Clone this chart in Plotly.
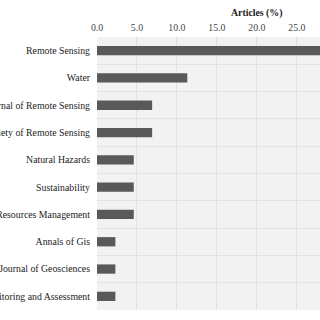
import plotly.graph_objects as go

journals = [
    "Remote Sensing",
    "Water",
    "International Journal of Remote Sensing",
    "Journal of the Indian Society of Remote Sensing",
    "Natural Hazards",
    "Sustainability",
    "Water Resources Management",
    "Annals of Gis",
    "Arabian Journal of Geosciences",
    "Environmental Monitoring and Assessment",
]
articles_pct = [28.7, 11.3, 6.9, 6.9, 4.6, 4.6, 4.6, 2.3, 2.3, 2.3]
x_ticks = [0, 5, 10, 15, 20, 25]

font_family = "Liberation Serif"

fig = go.Figure(
    go.Bar(
        x=articles_pct,
        y=journals,
        orientation="h",
        width=0.34,
        marker=dict(color="#595959", line=dict(width=0)),
    )
)

fig.update_layout(
    width=320,
    height=320,
    margin=dict(l=97, r=0, t=37, b=10),
    paper_bgcolor="white",
    plot_bgcolor="#f2f2f2",
    showlegend=False,
    font=dict(family=font_family, size=9.8, color="#333333"),
    annotations=[
        dict(
            text="<b>Articles (%)</b>",
            xref="x",
            yref="paper",
            x=19.9,
            y=1,
            yshift=24,
            showarrow=False,
            xanchor="center",
            yanchor="middle",
            font=dict(family=font_family, size=9.8, color="#222222"),
        )
    ],
)

fig.update_xaxes(
    side="top",
    range=[0, 27.9],
    tickvals=x_ticks,
    tickformat=".1f",
    showgrid=True,
    gridcolor="#e2e2e2",
    gridwidth=1,
    zeroline=False,
    showline=False,
    ticks="",
    ticklabelstandoff=3,
    automargin=False,
    tickfont=dict(family=font_family, size=9.8, color="#444444"),
)
fig.update_yaxes(
    autorange="reversed",
    type="category",
    tickson="boundaries",
    showgrid=True,
    gridcolor="#e2e2e2",
    gridwidth=1,
    showline=False,
    ticks="",
    ticklabelstandoff=6,
    automargin=False,
    tickfont=dict(family=font_family, size=9.8, color="#222222"),
)

fig.write_html("out.html")
